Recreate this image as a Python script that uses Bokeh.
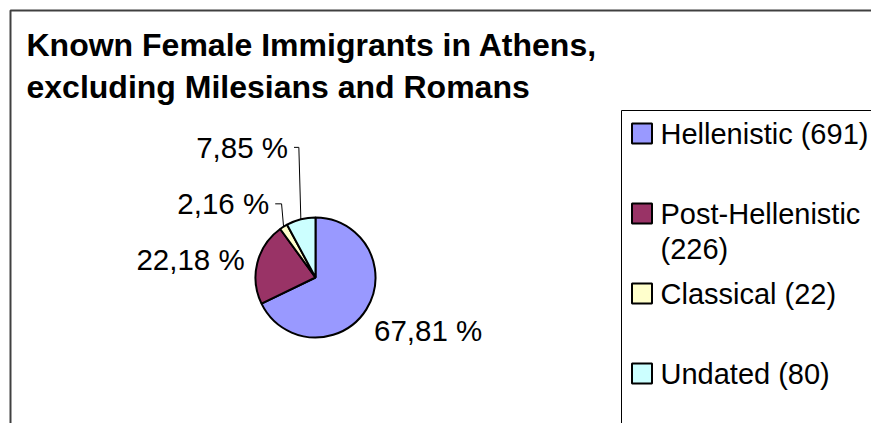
import math
from bokeh.plotting import figure
from bokeh.models import Range1d, ColumnDataSource
from bokeh.core.properties import value
from bokeh.embed import file_html
from bokeh.resources import INLINE

# ---------------- data ----------------
categories = ["Hellenistic", "Post-Hellenistic", "Classical", "Undated"]
counts = [691, 226, 22, 80]
colors = ["#9999FF", "#993366", "#FFFFCC", "#CCFFFF"]
title_lines = ["Known Female Immigrants in Athens,", "excluding Milesians and Romans"]

# ---------------- layout (screen px, y measured from top) ----------------
W, H = 871, 423
FONT = "Liberation Sans"
cx, cy, R = 315, 277, 60
label_gap = [9, 13, 27, 73]
label_angle_nudge = [0, 0, 0, 2.2]   # degrees
label_align = ["left", "right", "right", "right"]
label_baseline = ["top", "middle", "middle", "middle"]
legend_x0, legend_y0 = 621, 110
legend_first_y, legend_step, legend_line_gap = 133, 80, 35
legend_marker_x, legend_text_x, legend_marker_size = 641.5, 660, 20

def Y(y):
    return H - y

p = figure(width=W, height=H, output_backend="svg", toolbar_location=None,
           x_range=Range1d(0, W), y_range=Range1d(0, H),
           x_axis_location=None, y_axis_location=None, min_border=0)
p.grid.visible = False
p.outline_line_color = None
p.background_fill_color = "white"
p.border_fill_color = "white"

# outer chart frame (cropped at right/bottom)
p.line(x=[10, 10, W + 5], y=[Y(H + 5), Y(10), Y(10)], line_color="#404040", line_width=2)

# title
for i, t in enumerate(title_lines):
    p.text(x=[26], y=[Y(44 + 42 * i)], text=[t], text_font=value(FONT),
           text_font_size=value("32px"), text_font_style="bold",
           text_color="black", text_align="left", text_baseline="middle")

# pie
total = sum(counts)
fracs = [c / total for c in counts]
starts, ends, mids = [], [], []
cum = 0.0
for f in fracs:
    a0 = math.pi / 2 - 2 * math.pi * cum
    cum += f
    a1 = math.pi / 2 - 2 * math.pi * cum
    starts.append(a0); ends.append(a1); mids.append((a0 + a1) / 2)

src = ColumnDataSource(dict(start=starts, end=ends, color=colors))
p.wedge(x=cx, y=Y(cy), radius=R, start_angle="start", end_angle="end",
        direction="clock", fill_color="color", line_color="black", line_width=2,
        source=src)

# data labels
for i, f in enumerate(fracs):
    d = R + label_gap[i]
    la = mids[i] - math.radians(label_angle_nudge[i])
    ax, ay = cx + d * math.cos(la), Y(cy) + d * math.sin(la)
    txt = f"{f * 100:.2f} %".replace(".", ",")
    p.text(x=[ax], y=[ay], text=[txt], text_font=value(FONT),
           text_font_size=value("29.5px"), text_color="black",
           text_align=label_align[i], text_baseline=label_baseline[i])
    if label_gap[i] > 20:
        ex, ey = cx + R * math.cos(mids[i]), Y(cy) + R * math.sin(mids[i])
        p.line(x=[ax + 6, ex - 2, ex], y=[ay, ay, ey], line_color="black", line_width=1)

# legend box (cropped at right/bottom)
p.line(x=[legend_x0, legend_x0, W + 5], y=[Y(H + 5), Y(legend_y0), Y(legend_y0)],
       line_color="black", line_width=1)

def wrap(s, maxlen=18):
    if len(s) <= maxlen:
        return [s]
    k = s.rfind(" ", 0, maxlen)
    return [s[:k], s[k + 1:]]

for i, (name, c) in enumerate(zip(categories, counts)):
    yc = legend_first_y + legend_step * i
    p.rect(x=[legend_marker_x], y=[Y(yc)], width=legend_marker_size,
           height=legend_marker_size, width_units="screen", height_units="screen",
           fill_color=colors[i], line_color="black", line_width=2)
    for j, line in enumerate(wrap(f"{name} ({c})")):
        p.text(x=[legend_text_x], y=[Y(yc + legend_line_gap * j)], text=[line],
               text_font=value(FONT), text_font_size=value("29px"),
               text_color="black", text_align="left", text_baseline="middle")

open("out.html", "w").write(file_html(p, INLINE))
